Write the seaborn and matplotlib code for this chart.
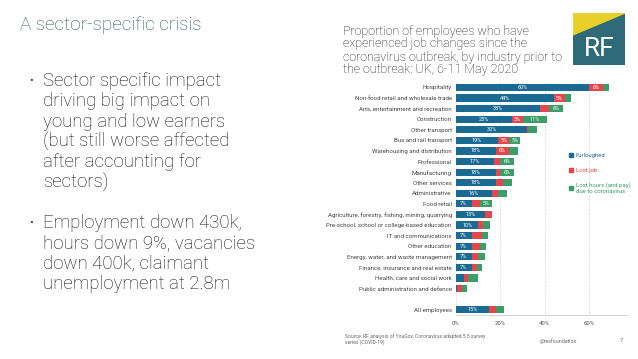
import pandas as pd
import matplotlib.pyplot as plt
import matplotlib.patches as mpatches
import seaborn as sns

# Данные (%)
sectors = [
    'Hospitality', 'Non-food retail and wholesale trade', 'Arts, entertainment and recreation',
    'Construction', 'Other transport', 'Bus and rail transport', 'Warehousing and distribution',
    'Professional', 'Manufacturing', 'Other services', 'Administrative', 'Food retail',
    'Agriculture, forestry, fishing, mining, quarrying', 'Pre-school, school or college-based education',
    'IT and communications', 'Other education', 'Energy, water, and waste management',
    'Finance, insurance and real estate', 'Health, care and social work',
    'Public administration and defence', 'All employees',
]
furloughed = [60, 44, 38, 25, 32, 19, 18, 17, 18, 18, 16, 7, 13, 10, 7, 7, 7, 7, 3.5, 0.6, 15]
lost_job = [6, 5, 4, 5, 0.4, 5, 6, 3, 2, 3, 3, 4, 3, 2, 4.5, 3.7, 3, 2.5, 2, 2, 3]
lost_hours = [3, 3, 6, 11, 4, 5, 4, 6, 6, 4, 4, 5, 0, 3.4, 2.7, 3, 3, 2.2, 4.2, 2.2, 3.7]
x_ticks = [0, 20, 40, 60]

BLUE = '#1b6a94'
RED = '#e4474b'
GREEN = '#3c9d68'
TEAL = '#2f6a78'

df = pd.DataFrame({'sector': sectors, 'furloughed': furloughed,
                   'lost_job': lost_job, 'lost_hours': lost_hours})
df['cum_job'] = df['furloughed'] + df['lost_job']
df['cum_all'] = df['cum_job'] + df['lost_hours']
order = sectors[:-1] + [' '] + ['All employees']

sns.set_style('white')
plt.rcParams['font.family'] = ['Roboto', 'DejaVu Sans']

fig = plt.figure(figsize=(6.38, 3.59), dpi=100)

# Левая часть слайда
fig.text(20 / 638, 1 - 25 / 359, 'A sector-specific crisis', fontsize=13.6,
         color='#2a525c', fontweight='light', va='center')
bullets = [
    (81, ['Sector specific impact', 'driving big impact on', 'young and low earners',
          '(but still worse affected', 'after accounting for', 'sectors)']),
    (223, ['Employment down 430k,', 'hours down 9%, vacancies',
           'down 400k, claimant', 'unemployment at 2.8m']),
]
for y0, lines in bullets:
    fig.text(29 / 638, 1 - y0 / 359, '•', fontsize=8, color='#444444', va='center')
    for i, line in enumerate(lines):
        fig.text(43 / 638, 1 - (y0 + i * 20.3) / 359, line, fontsize=13.4,
                 color='#111111', fontweight='light', va='center')

# Заголовок графика
title_lines = ['Proportion of employees who have', 'experienced job changes since the',
               'coronavirus outbreak, by industry prior to', 'the outbreak: UK, 6-11 May 2020']
for i, line in enumerate(title_lines):
    fig.text(343 / 638, 1 - (31 + i * 13) / 359, line, fontsize=9,
             color='#111111', fontweight='light', va='center')

# Логотип RF
lax = fig.add_axes([573 / 638, 1 - 65 / 359, 52 / 638, 52 / 359])
lax.add_patch(mpatches.Rectangle((0, 0), 1, 1, color=TEAL))
lax.add_patch(mpatches.Polygon([(0, 1), (1, 1), (0, 0.58)], color='#e8cf2a'))
lax.text(0.5, 0.3, 'RF', color='white', fontsize=19, ha='center', va='center')
lax.set_xlim(0, 1)
lax.set_ylim(0, 1)
lax.axis('off')

# Столбчатая диаграмма
ax = fig.add_axes([456 / 638, 1 - 315 / 359, 171 / 638, 232.8 / 359])
sns.barplot(data=df, x='cum_all', y='sector', order=order, color=GREEN,
            width=0.68, saturation=1, linewidth=0, ax=ax)
sns.barplot(data=df, x='cum_job', y='sector', order=order, color=RED,
            width=0.68, saturation=1, linewidth=0, ax=ax)
sns.barplot(data=df, x='furloughed', y='sector', order=order, color=BLUE,
            width=0.68, saturation=1, linewidth=0, ax=ax)

# Подписи внутри сегментов
for _, row in df.iterrows():
    ypos = order.index(row['sector'])
    segs = [(0, row['furloughed']), (row['furloughed'], row['lost_job']),
            (row['cum_job'], row['lost_hours'])]
    for start, val in segs:
        if val >= 5:
            ax.text(start + val / 2, ypos, f'{val:.0f}%', color='white',
                    fontsize=4, ha='center', va='center')

ax.set_xlim(0, 77)
ax.set_xticks(x_ticks)
ax.set_xticklabels([f'{t}%' for t in x_ticks])
ax.grid(axis='x', color='#cccccc', linestyle=':', linewidth=0.7)
ax.set_axisbelow(True)
ax.set_xlabel('')
ax.set_ylabel('')
ax.tick_params(axis='x', length=0, labelsize=4.3, labelcolor='#555555', pad=4)
ax.tick_params(axis='y', length=0, labelsize=4.4, labelcolor='#444444', pad=3)
for s in ['top', 'right', 'left']:
    ax.spines[s].set_visible(False)
ax.spines['bottom'].set_color('#cccccc')
ax.spines['bottom'].set_linewidth(0.6)

handles = [mpatches.Patch(color=BLUE), mpatches.Patch(color=RED), mpatches.Patch(color=GREEN)]
leg = ax.legend(handles, ['Furloughed', 'Lost job', 'Lost hours (and pay)\ndue to coronavirus'],
                loc='upper left', bbox_to_anchor=(0.63, 0.718), frameon=False,
                fontsize=4.3, handlelength=0.7, handleheight=0.7, handletextpad=0.4,
                labelspacing=1.6, labelcolor=[BLUE, RED, GREEN])

# Подвал
fig.text(345 / 638, 1 - 336 / 359, 'Source: RF analysis of YouGov, Coronavirus adapted 5.5 survey',
         fontsize=3.6, color='#666666', va='center')
fig.text(345 / 638, 1 - 342 / 359, 'series (COVID-19)', fontsize=3.6, color='#666666', va='center')
fig.text(540 / 638, 1 - 341 / 359, '@resfoundation', fontsize=3.8, color='#666666', va='center')
fig.text(620 / 638, 1 - 340 / 359, '7', fontsize=4, color='#666666', va='center')

fig.savefig('out.png', dpi=100)
plt.close(fig)
